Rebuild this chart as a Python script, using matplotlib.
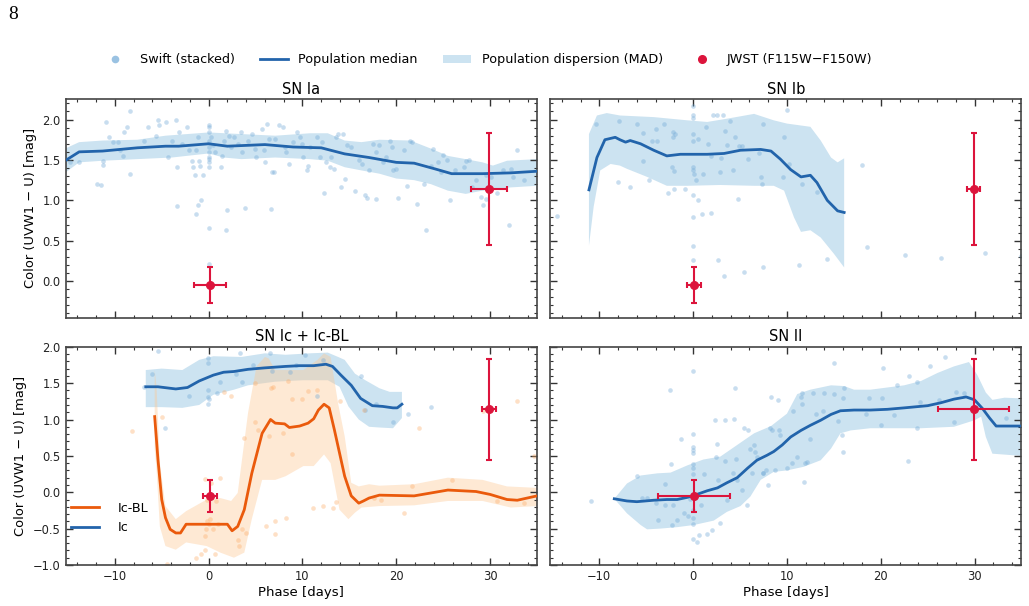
import numpy as np
import matplotlib
matplotlib.use("Agg")
import matplotlib.pyplot as plt
from matplotlib.lines import Line2D
from matplotlib.patches import Patch

# ---- data (phase [days], colour [mag]) ----
IA_SWIFT = [(-14.8, 1.47), (-13.8, 1.47), (-11.9, 1.20), (-11.5, 1.19), (-10.9, 1.97), (-10.6, 1.78),
            (-11.3, 1.49), (-11.3, 1.44), (-8.4, 2.11), (-8.4, 1.33), (-8.7, 1.91), (-9.0, 1.84),
            (-9.7, 1.72), (-10.2, 1.72), (-9.4, 1.62), (-9.1, 1.55), (-6.9, 1.74), (-6.5, 1.91),
            (-5.6, 1.79), (-5.4, 1.99), (-5.3, 1.93), (-4.5, 1.97), (-4.3, 1.54), (-3.5, 1.99),
            (-3.9, 1.74), (-3.4, 1.41), (-3.2, 1.84), (-2.8, 1.70), (-2.3, 1.91), (-2.1, 1.62),
            (-1.8, 1.49), (-1.7, 1.41), (-1.5, 1.31), (-1.3, 1.62), (-1.1, 1.78), (-1.0, 1.49),
            (-0.9, 1.43), (-1.3, 0.83), (-0.8, 1.01), (-1.1, 0.94), (-0.6, 1.31), (-3.4, 0.93),
            (0.0, 1.93), (0.0, 1.91), (0.0, 1.84), (0.0, 1.74), (0.0, 1.66), (0.0, 1.60), (0.0, 1.54),
            (0.0, 1.51), (0.0, 1.47), (0.0, 1.41), (0.0, 0.66), (0.0, 0.21), (0.3, 1.78), (0.5, 1.68),
            (0.7, 1.60), (1.3, 1.41), (1.4, 1.55), (1.6, 1.74), (1.8, 1.86), (2.0, 0.88), (1.8, 0.63),
            (2.2, 1.80), (2.4, 1.66), (2.7, 1.78), (3.1, 1.70), (3.5, 1.84), (3.6, 1.60), (3.9, 0.90),
            (4.2, 1.74), (4.6, 1.82), (4.9, 1.64), (5.1, 1.54), (5.7, 1.88), (5.9, 1.62), (6.0, 1.48),
            (6.2, 1.95), (6.4, 1.76), (6.7, 0.89), (6.8, 1.35), (7.0, 1.35), (7.1, 1.76), (7.5, 1.93),
            (7.9, 1.91), (8.1, 1.66), (8.2, 1.60), (8.6, 1.45), (9.0, 1.72), (9.4, 1.84), (9.7, 1.78),
            (9.9, 1.70), (10.1, 1.54), (10.5, 1.37), (10.6, 1.43), (10.8, 1.66), (11.6, 1.78),
            (11.9, 1.54), (12.1, 1.72), (12.3, 1.09), (12.5, 1.47), (12.9, 1.41), (13.0, 1.54),
            (13.4, 1.39), (13.6, 1.78), (13.8, 1.82), (14.1, 1.16), (14.3, 1.82), (14.5, 1.27),
            (14.7, 1.68), (15.2, 1.66), (15.6, 1.12), (16.0, 1.50), (16.3, 1.45), (16.7, 1.06),
            (16.9, 1.03), (17.1, 1.37), (17.5, 1.70), (17.8, 1.60), (17.8, 1.02), (18.2, 1.68),
            (18.6, 1.47), (18.9, 1.54), (19.3, 1.74), (19.5, 1.66), (19.7, 1.37), (20.0, 1.39),
            (20.2, 1.03), (20.8, 1.62), (21.1, 1.18), (21.5, 1.74), (21.7, 1.72), (22.2, 0.96),
            (23.0, 1.20), (23.2, 0.63), (23.7, 1.43), (23.9, 1.64), (24.4, 1.47), (24.8, 1.35),
            (25.0, 1.56), (25.4, 1.50), (25.7, 1.00), (26.3, 1.37), (27.2, 1.41), (27.4, 1.49),
            (27.8, 1.50), (28.1, 1.16), (28.5, 1.25), (29.0, 1.04), (29.2, 0.94), (29.6, 1.02),
            (29.6, 1.31), (30.1, 1.29), (30.7, 1.09), (31.4, 1.37), (32.0, 0.69), (32.2, 1.39),
            (32.4, 1.29), (32.9, 1.62), (33.6, 1.25)]
IA_MEDIAN = [(-15.3, 1.49), (-13.8, 1.60), (-11.3, 1.61), (-7.6, 1.65), (-4.6, 1.67), (-3.2, 1.67),
             (0.0, 1.70), (2.0, 1.67), (6.0, 1.69), (9.0, 1.66), (12.0, 1.65), (14.5, 1.575),
             (17.1, 1.53), (20.0, 1.47), (21.9, 1.46), (24.1, 1.39), (25.9, 1.33), (29.2, 1.33),
             (32.2, 1.34), (35.0, 1.36)]
IA_UPPER = [(-15.3, 1.64), (-13.8, 1.72), (-11.3, 1.74), (-7.6, 1.75), (-4.6, 1.80), (0.0, 1.84),
            (3.5, 1.82), (7.1, 1.80), (10.8, 1.83), (12.7, 1.83), (14.5, 1.74), (16.3, 1.72),
            (18.2, 1.75), (21.5, 1.74), (23.7, 1.64), (25.5, 1.55), (27.4, 1.51), (29.2, 1.47),
            (30.3, 1.43), (31.8, 1.49), (35.0, 1.51)]
IA_LOWER = [(-15.3, 1.34), (-13.8, 1.47), (-11.3, 1.49), (-7.6, 1.51), (-3.9, 1.53), (0.0, 1.58),
            (1.6, 1.53), (3.5, 1.51), (7.1, 1.53), (10.8, 1.51), (12.7, 1.49), (14.5, 1.41),
            (16.3, 1.37), (18.2, 1.33), (20.0, 1.27), (21.9, 1.25), (23.7, 1.20), (25.5, 1.12),
            (27.4, 1.08), (29.2, 1.12), (32.2, 1.16), (35.0, 1.18)]

IB_SWIFT = [(-14.5, 0.81), (-10.3, 1.95), (-8.0, 1.23), (-7.9, 1.98), (-6.7, 1.16), (-6.0, 1.95),
            (-5.3, 1.83), (-5.3, 1.49), (-4.7, 1.25), (-4.4, 1.74), (-4.0, 1.88), (-3.8, 1.73),
            (-3.1, 1.95), (-2.7, 1.09), (-2.2, 1.41), (-2.1, 1.84), (-2.1, 1.78), (-1.9, 1.82),
            (-2.0, 1.36), (-2.0, 1.14), (-0.9, 1.14), (0.0, 2.17), (0.0, 2.05), (0.0, 2.02),
            (0.0, 1.82), (0.0, 1.73), (0.0, 1.41), (0.0, 1.37), (0.1, 1.33), (0.0, 1.06), (0.5, 1.00),
            (0.0, 0.80), (0.0, 0.44), (0.0, 0.26), (0.3, 1.25), (0.5, 1.76), (0.9, 0.83), (1.1, 1.33),
            (1.4, 1.91), (1.6, 1.70), (1.9, 0.84), (1.9, 1.55), (2.1, 2.06), (2.6, 2.06), (2.7, 0.26),
            (2.9, 1.35), (3.0, 1.53), (3.2, 2.06), (3.3, 0.07), (3.4, 1.86), (3.6, 1.68), (3.9, 1.98),
            (4.3, 1.37), (4.5, 1.78), (4.8, 1.02), (4.9, 1.67), (5.2, 1.67), (5.4, 0.11), (5.9, 1.51),
            (7.0, 1.59), (7.2, 1.29), (7.3, 1.20), (7.4, 0.17), (7.5, 1.94), (9.6, 1.29), (9.7, 1.78),
            (10.0, 2.12), (10.2, 1.45), (11.3, 0.20), (11.6, 1.20), (13.2, 1.10), (14.3, 0.28),
            (18.0, 1.44), (18.5, 0.42), (22.6, 0.32), (26.4, 0.29), (31.1, 0.35), (34.9, 0.31)]
IB_MEDIAN = [(-11.1, 1.13), (-10.25, 1.53), (-9.4, 1.75), (-8.3, 1.78), (-7.8, 1.75), (-7.2, 1.72),
             (-6.7, 1.74), (-5.6, 1.70), (-4.2, 1.62), (-2.8, 1.55), (-1.35, 1.57), (1.5, 1.57),
             (3.3, 1.58), (5.05, 1.62), (7.2, 1.63), (8.3, 1.61), (9.3, 1.51), (10.4, 1.38),
             (11.5, 1.29), (12.5, 1.31), (13.2, 1.22), (14.3, 1.00), (15.4, 0.87), (16.1, 0.85)]
IB_UPPER = [(-11.1, 1.82), (-10.25, 2.05), (-9.2, 2.08), (-7.8, 2.05), (-4.2, 2.03), (-0.6, 1.99),
            (1.5, 1.97), (3.6, 2.01), (6.5, 2.07), (8.6, 1.99), (10.0, 1.95), (12.5, 1.91),
            (13.6, 1.74), (14.7, 1.53), (15.4, 1.47), (16.1, 1.52)]
IB_LOWER = [(-11.1, 0.44), (-10.6, 0.92), (-9.9, 1.37), (-8.8, 1.45), (-7.8, 1.43), (-7.05, 1.39),
            (-4.9, 1.29), (-2.8, 1.18), (-0.6, 1.18), (2.9, 1.19), (6.5, 1.18), (8.6, 1.18),
            (9.7, 1.12), (10.75, 0.79), (11.5, 0.61), (12.5, 0.63), (13.6, 0.54), (15.0, 0.34),
            (16.1, 0.17)]

IC_SWIFT = [(-6.9, 1.45), (-6.0, 1.63), (-5.4, 1.94), (-4.6, 0.89), (-2.1, 1.32), (-0.1, 1.41),
            (-0.1, 1.78), (-0.1, 1.84), (-0.1, 1.31), (-0.1, 1.22), (0.0, 1.28), (0.9, 1.36),
            (1.25, 1.52), (3.3, 1.91), (2.9, 1.63), (3.6, 1.51), (4.75, 1.75), (6.5, 1.92),
            (6.8, 1.66), (8.7, 1.65), (9.3, 1.75), (10.3, 1.89), (11.6, 1.32), (12.2, 1.82),
            (16.2, 1.60), (16.7, 1.13), (17.8, 1.21), (19.7, 0.97), (21.3, 1.08), (23.7, 1.17)]
IC_MEDIAN = [(-6.7, 1.45), (-5.4, 1.45), (-3.5, 1.42), (-2.25, 1.44), (-1.0, 1.53), (0.5, 1.61),
             (1.6, 1.65), (2.7, 1.66), (4.2, 1.69), (6.0, 1.71), (8.2, 1.73), (9.7, 1.74),
             (11.2, 1.74), (12.5, 1.76), (13.2, 1.73), (14.1, 1.61), (15.2, 1.47), (16.2, 1.29),
             (16.7, 1.25), (17.45, 1.19), (18.55, 1.18), (19.65, 1.16), (20.1, 1.16), (20.6, 1.21)]
IC_UPPER = [(-6.7, 1.68), (-5.0, 1.70), (-2.8, 1.68), (-1.0, 1.82), (0.5, 1.87), (3.5, 1.86),
            (6.0, 1.91), (8.2, 1.89), (10.8, 1.91), (12.7, 1.92), (13.8, 1.86), (14.5, 1.82),
            (15.6, 1.63), (16.7, 1.54), (18.2, 1.43), (19.3, 1.38), (20.6, 1.38)]
IC_LOWER = [(-6.7, 1.17), (-5.0, 1.17), (-2.8, 1.16), (-1.0, 1.20), (0.5, 1.34), (2.7, 1.41),
            (4.2, 1.47), (7.1, 1.52), (10.1, 1.54), (12.7, 1.54), (13.95, 1.45), (14.9, 1.18),
            (16.0, 1.00), (17.1, 0.90), (18.2, 0.89), (19.65, 0.88), (20.6, 1.02)]

ICBL_SWIFT = [(-8.2, 0.84), (-5.0, 1.03), (-4.4, -0.98), (-1.3, -0.90), (-0.85, -0.85), (-0.4, -0.79),
              (-0.4, -0.60), (-0.2, -0.40), (-0.3, -0.51), (0.0, -0.44), (0.15, -0.37), (-0.4, 0.18),
              (-0.2, -0.10), (0.3, 0.13), (0.5, -0.51), (0.7, -0.85), (0.8, -0.12), (1.2, 0.20),
              (1.0, -0.44), (1.6, 1.38), (2.4, 1.32), (3.1, -0.65), (3.2, -0.74), (3.6, -0.51),
              (3.8, 0.74), (4.0, -0.56), (4.9, 0.97), (4.9, 1.50), (5.3, 0.86), (6.1, -0.47),
              (6.4, 0.77), (6.7, 1.43), (6.9, 1.45), (7.1, -0.58), (7.1, -0.40), (7.95, 0.82),
              (8.2, -0.35), (8.5, 1.53), (8.9, 1.28), (8.9, 0.52), (10.0, 1.28), (10.6, 1.39),
              (11.1, -0.21), (11.6, 1.41), (12.2, -0.19), (13.3, -0.21), (13.6, -0.14), (13.95, 1.25),
              (16.6, 1.13), (17.6, -0.08), (18.4, -0.10), (20.8, -0.28), (21.7, 0.08), (22.4, 0.88),
              (25.9, 0.17), (29.2, 1.12), (32.9, 1.25), (30.7, -0.12), (33.6, -0.15), (34.7, 0.50)]
ICBL_MEDIAN = [(-5.75, 1.04), (-5.4, 0.45), (-5.0, -0.10), (-4.6, -0.35), (-4.1, -0.51), (-3.5, -0.56),
               (-3.0, -0.56), (-2.4, -0.44), (-1.3, -0.44), (0.5, -0.44), (2.0, -0.44), (2.5, -0.53),
               (3.1, -0.47), (3.8, -0.24), (4.6, 0.26), (5.7, 0.81), (6.6, 1.00), (7.1, 0.95),
               (8.1, 0.94), (8.6, 0.89), (9.7, 0.91), (10.6, 0.95), (11.2, 1.01), (11.7, 1.13),
               (12.3, 1.21), (12.85, 1.16), (13.4, 0.86), (13.95, 0.54), (14.5, 0.22), (15.2, -0.05),
               (16.0, -0.15), (16.5, -0.12), (17.1, -0.08), (18.2, -0.04), (21.9, -0.05), (25.5, 0.03),
               (28.5, 0.01), (30.0, -0.03), (31.8, -0.10), (32.9, -0.11), (35.0, -0.05)]
ICBL_UPPER = [(-5.75, 1.68), (-5.55, 1.45), (-5.2, 0.40), (-4.6, -0.19), (-3.5, -0.37), (-2.4, -0.26),
              (-0.2, -0.10), (1.25, -0.08), (2.4, -0.12), (3.1, -0.01), (4.2, 1.09), (5.1, 1.73),
              (6.0, 1.86), (6.4, 1.84), (7.1, 1.68), (10.1, 1.68), (11.6, 1.82), (12.3, 1.91),
              (13.0, 1.86), (13.8, 1.22), (14.5, 0.77), (15.2, 0.13), (16.0, 0.08), (17.1, 0.11),
              (18.2, 0.09), (21.9, 0.11), (25.5, 0.20), (29.2, 0.17), (31.8, 0.08), (35.0, 0.06)]
ICBL_LOWER = [(-5.75, 0.60), (-5.55, 0.31), (-5.2, -0.47), (-4.6, -0.74), (-3.5, -0.79), (-2.4, -0.69),
              (-0.2, -0.74), (1.25, -0.83), (2.7, -0.90), (3.8, -0.83), (4.6, -0.37), (5.7, 0.17),
              (7.1, 0.17), (8.2, 0.22), (10.1, 0.36), (11.2, 0.36), (12.3, 0.52), (13.0, 0.40),
              (13.95, -0.24), (14.9, -0.37), (15.6, -0.28), (16.3, -0.21), (18.2, -0.19),
              (21.9, -0.18), (25.5, -0.12), (29.2, -0.12), (32.2, -0.21), (35.0, -0.19)]

II_SWIFT = [(-10.85, -0.12), (-6.0, 0.23), (-5.4, -0.08), (-4.9, -0.08), (-4.0, -0.15), (-3.7, -0.38),
            (-2.95, 0.11), (-2.95, -0.18), (-2.5, 1.41), (-2.35, 0.39), (-2.2, -0.45), (-2.1, -0.18),
            (-1.7, -0.38), (-1.3, 0.73), (-1.0, -0.29), (-0.5, -0.32), (-0.3, -0.09), (0.0, 1.66),
            (0.0, 0.80), (0.0, 0.62), (0.0, 0.58), (0.0, 0.54), (0.0, 0.39), (0.0, 0.34), (0.0, 0.25),
            (0.0, -0.25), (0.0, -0.36), (0.0, -0.44), (0.0, -0.64), (0.4, -0.68), (0.6, -0.59),
            (0.8, -0.18), (1.2, 0.25), (1.5, -0.57), (2.0, -0.52), (2.3, 1.00), (2.4, 0.49),
            (2.6, 0.67), (2.7, 0.17), (2.9, -0.42), (3.35, 0.99), (3.4, 0.43), (3.6, -0.11),
            (4.2, 0.27), (4.4, 1.01), (4.5, 1.44), (4.6, 0.46), (4.7, 0.17), (5.2, 0.03), (5.4, 0.88),
            (5.7, -0.17), (5.9, 0.85), (6.05, 0.60), (6.3, 0.26), (6.5, 0.65), (6.55, 0.56),
            (6.8, 0.48), (7.4, 0.26), (7.5, 0.26), (7.8, 0.30), (8.0, 0.10), (8.2, 0.89), (8.3, 1.31),
            (8.4, 0.85), (8.7, 0.30), (9.0, 1.27), (9.15, 0.85), (9.3, 0.79), (10.0, 0.33),
            (10.5, 0.40), (10.7, 1.12), (11.1, 0.49), (11.5, 1.31), (11.6, 1.36), (11.6, 1.21),
            (11.8, 0.14), (11.9, 0.40), (12.1, 0.42), (12.5, 0.73), (12.8, 1.36), (13.1, 1.08),
            (13.8, 1.12), (14.0, 1.37), (15.0, 1.77), (15.0, 1.35), (15.4, 0.98), (15.9, 0.79),
            (16.0, 0.56), (16.0, 1.29), (16.1, 1.43), (18.4, 1.07), (18.75, 1.29), (20.0, 0.92),
            (20.1, 1.29), (20.25, 1.71), (21.4, 1.06), (21.7, 1.47), (22.95, 0.43), (23.0, 1.60),
            (23.9, 1.52), (23.9, 0.88), (24.2, 1.24), (25.2, 1.73), (26.2, 1.27), (26.8, 1.86),
            (27.8, 0.97), (28.0, 1.38), (28.9, 1.36), (33.4, 1.02)]
II_MEDIAN = [(-8.4, -0.09), (-7.05, -0.12), (-6.0, -0.13), (-4.2, -0.11), (-2.8, -0.10), (-1.7, -0.10),
             (-0.6, -0.07), (0.4, -0.03), (1.5, 0.02), (2.6, 0.06), (3.6, 0.13), (4.7, 0.20),
             (5.8, 0.33), (6.8, 0.44), (7.9, 0.51), (8.6, 0.56), (9.5, 0.65), (10.4, 0.76),
             (11.5, 0.85), (12.5, 0.92), (13.6, 0.99), (14.7, 1.07), (15.7, 1.12), (17.15, 1.13),
             (18.9, 1.13), (20.7, 1.14), (22.5, 1.16), (25.0, 1.19), (26.4, 1.23), (27.8, 1.28),
             (29.1, 1.31), (30.0, 1.27), (30.85, 1.15), (31.6, 1.02), (32.3, 0.91), (35.0, 0.91)]
II_UPPER = [(-8.4, -0.09), (-7.05, 0.12), (-5.6, 0.23), (-3.8, 0.26), (-2.4, 0.27), (-0.6, 0.37),
            (1.1, 0.45), (2.9, 0.49), (4.7, 0.65), (6.5, 0.81), (8.3, 0.91), (10.0, 1.08),
            (11.1, 1.35), (12.5, 1.41), (13.6, 1.44), (14.7, 1.47), (16.1, 1.46), (17.15, 1.41),
            (18.9, 1.41), (22.5, 1.47), (24.3, 1.53), (26.05, 1.64), (27.8, 1.73), (29.4, 1.79),
            (30.3, 1.61), (31.2, 1.37), (31.9, 1.27), (33.2, 1.30), (35.0, 1.29)]
II_LOWER = [(-8.4, -0.09), (-7.05, -0.29), (-5.6, -0.45), (-4.9, -0.51), (-3.5, -0.50), (-1.7, -0.48),
            (0.1, -0.45), (2.2, -0.39), (3.6, -0.27), (5.05, -0.19), (6.1, -0.06), (7.2, 0.17),
            (8.6, 0.28), (10.0, 0.30), (11.8, 0.35), (13.6, 0.44), (14.7, 0.60), (15.7, 0.81),
            (16.8, 0.85), (18.9, 0.88), (20.7, 0.88), (24.3, 0.88), (27.8, 0.90), (30.0, 0.99),
            (30.7, 1.04), (31.2, 0.76), (31.9, 0.53), (35.0, 0.50)]

# JWST colour and its uncertainty, same in every panel
JWST_PHASE = [0.1, 29.9]
JWST_COLOR = [-0.05, 1.14]
JWST_COLOR_ERR = [0.22, 0.69]
# phase uncertainty depends on the class
JWST_PHASE_ERR = {"SN Ia": [1.7, 1.9], "SN Ib": [0.7, 0.7],
                  "SN Ic + Ic-BL": [0.75, 0.75], "SN II": [3.8, 3.8]}

BLUE = "#2264ab"
BLUE_PT = "#6fa8d6"
BLUE_FILL = "#8fc1e0"
ORANGE = "#ea5a0c"
ORANGE_PT = "#fdae6b"
ORANGE_FILL = "#fdc894"
RED = "#dc143c"


def xy(pairs):
    a = np.array(pairs)
    return a[:, 0], a[:, 1]


def draw_population(ax, swift, median, upper, lower, pt, line, fill, fill_alpha=0.45):
    ux, uy = xy(upper)
    lx, ly = xy(lower)
    ax.fill(np.concatenate([ux, lx[::-1]]), np.concatenate([uy, ly[::-1]]),
            color=fill, alpha=fill_alpha, lw=0, zorder=1)
    sx, sy = xy(swift)
    ax.scatter(sx, sy, s=11, color=pt, alpha=0.38, lw=0, zorder=2)
    mx, my = xy(median)
    ax.plot(mx, my, color=line, lw=2.0, zorder=3)


def draw_jwst(ax, name):
    ax.errorbar(JWST_PHASE, JWST_COLOR, xerr=JWST_PHASE_ERR[name], yerr=JWST_COLOR_ERR,
                fmt="o", color=RED, ms=5.5, elinewidth=1.5, capsize=2.5, capthick=1.5, zorder=5)


def style(ax):
    ax.tick_params(which="both", direction="in", top=True, right=True, colors="#333333",
                   labelcolor="#222222", labelsize=8.3)
    ax.tick_params(which="major", length=5, width=1)
    ax.tick_params(which="minor", length=2.5, width=0.8)
    ax.xaxis.set_major_locator(plt.MultipleLocator(10))
    ax.xaxis.set_minor_locator(plt.MultipleLocator(2))
    ax.yaxis.set_major_locator(plt.MultipleLocator(0.5))
    ax.yaxis.set_minor_locator(plt.MultipleLocator(0.1))
    for sp in ax.spines.values():
        sp.set_color("#444444")
        sp.set_linewidth(1.2)


fig, axes = plt.subplots(2, 2, figsize=(10.29, 6.06), dpi=100, sharex=True)
fig.subplots_adjust(left=0.0637, right=0.9927, top=0.8361, bottom=0.0677,
                    wspace=0.0276, hspace=0.134)
ax_ia, ax_ib = axes[0]
ax_ic, ax_ii = axes[1]

draw_population(ax_ia, IA_SWIFT, IA_MEDIAN, IA_UPPER, IA_LOWER, BLUE_PT, BLUE, BLUE_FILL)
draw_population(ax_ib, IB_SWIFT, IB_MEDIAN, IB_UPPER, IB_LOWER, BLUE_PT, BLUE, BLUE_FILL)
draw_population(ax_ic, IC_SWIFT, IC_MEDIAN, IC_UPPER, IC_LOWER, BLUE_PT, BLUE, BLUE_FILL)
draw_population(ax_ic, ICBL_SWIFT, ICBL_MEDIAN, ICBL_UPPER, ICBL_LOWER, ORANGE_PT, ORANGE,
                ORANGE_FILL, fill_alpha=0.4)
draw_population(ax_ii, II_SWIFT, II_MEDIAN, II_UPPER, II_LOWER, BLUE_PT, BLUE, BLUE_FILL)

for ax, name in [(ax_ia, "SN Ia"), (ax_ib, "SN Ib"), (ax_ic, "SN Ic + Ic-BL"), (ax_ii, "SN II")]:
    draw_jwst(ax, name)
    style(ax)
    ax.set_title(name, fontsize=10.5, pad=4)
    ax.set_xlim(-15.25, 35)

ax_ia.set_ylim(-0.45, 2.25)
ax_ib.set_ylim(-0.45, 2.25)
ax_ic.set_ylim(-1.0, 2.0)
ax_ii.set_ylim(-1.0, 2.0)
ax_ib.tick_params(labelleft=False)
ax_ii.tick_params(labelleft=False)

for ax in (ax_ia, ax_ic):
    ax.set_ylabel("Color (UVW1 \u2212 U) [mag]", fontsize=9.4)
for ax in (ax_ic, ax_ii):
    ax.set_xlabel("Phase [days]", fontsize=9.5, labelpad=2)

ic_handles = [Line2D([], [], color=ORANGE, lw=2.0), Line2D([], [], color=BLUE, lw=2.0)]
ax_ic.legend(ic_handles, ["Ic-BL", "Ic"], loc="center left", bbox_to_anchor=(0.0, 0.215),
             frameon=False, fontsize=9.2, handlelength=2.2, handletextpad=1.5, borderaxespad=0)

top_handles = [
    Line2D([], [], ls="none", marker="o", ms=5.5, color=BLUE_PT, alpha=0.7, mec="none"),
    Line2D([], [], color=BLUE, lw=2.0),
    Patch(color=BLUE_FILL, alpha=0.45, lw=0),
    Line2D([], [], ls="none", marker="o", ms=5.5, color=RED),
]
fig.legend(top_handles, ["Swift (stacked)", "Population median", "Population dispersion (MAD)",
                         "JWST (F115W\u2212F150W)"],
           loc="center", bbox_to_anchor=(0.473, 0.901), ncol=4, frameon=False, fontsize=9.2,
           columnspacing=2.0, handlelength=2.2)

fig.text(0.008, 0.99, "8", va="top", ha="left", family="Liberation Serif", fontsize=14)

fig.savefig("out.png", dpi=100)
